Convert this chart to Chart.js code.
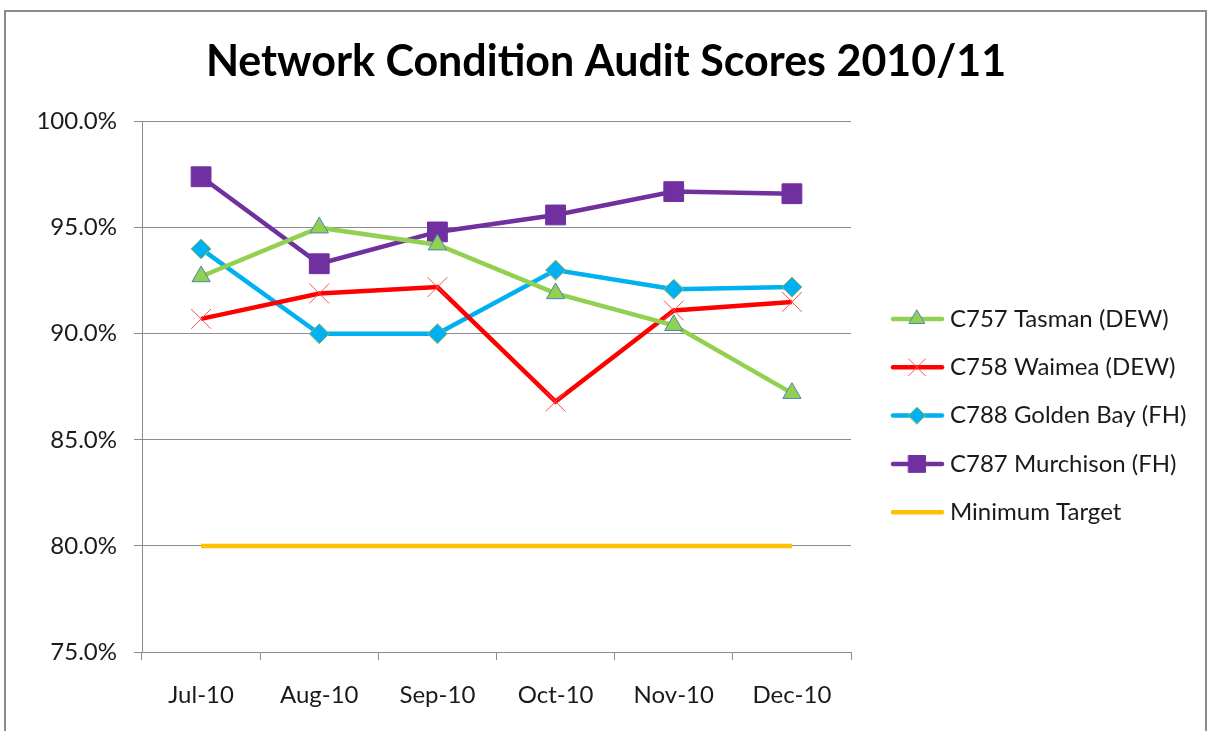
<!DOCTYPE html>
<html>
<head>
<meta charset="utf-8">
<script src="https://cdn.jsdelivr.net/npm/chart.js@4.4.0/dist/chart.umd.min.js"></script>
<style>
body { margin: 0; background: #fff; }
</style>
</head>
<body>
<canvas id="myChart" width="1212" height="731"></canvas>
<script>
var months = ["Jul-10", "Aug-10", "Sep-10", "Oct-10", "Nov-10", "Dec-10"];
var tasman = [92.7, 95.0, 94.2, 91.9, 90.4, 87.2];
var waimea = [90.7, 91.9, 92.2, 86.8, 91.1, 91.5];
var goldenBay = [94.0, 90.0, 90.0, 93.0, 92.1, 92.2];
var murchison = [97.4, 93.3, 94.8, 95.6, 96.7, 96.6];
var minTarget = [80, 80, 80, 80, 80, 80];
var yTicks = [75, 80, 85, 90, 95, 100];

// outer frame like the spreadsheet chart
var frame = {
  id: "frame",
  beforeDraw: function(chart) {
    var ctx = chart.ctx;
    ctx.save();
    ctx.fillStyle = "#fff";
    ctx.fillRect(0, 0, chart.width, chart.height);
    ctx.strokeStyle = "#8c8c8c";
    ctx.lineWidth = 2;
    ctx.strokeRect(5, 11, 1201, 740);
    ctx.restore();
  }
};

// legend with line + marker, drawn in the right hand space
var legendBox = {
  id: "legendBox",
  afterDraw: function(chart) {
    var ctx = chart.ctx;
    chart.data.datasets.forEach(function(ds, i) {
      var y = 319 + i * 48.3;
      ctx.save();
      ctx.strokeStyle = ds.borderColor;
      ctx.lineWidth = ds.borderWidth;
      ctx.lineCap = "round";
      ctx.beginPath();
      ctx.moveTo(893, y);
      ctx.lineTo(942, y);
      ctx.stroke();
      if (ds.pointRadius > 0) {
        ctx.fillStyle = ds.pointBackgroundColor;
        ctx.strokeStyle = ds.pointBorderColor;
        ctx.lineWidth = ds.pointBorderWidth;
        Chart.helpers.drawPoint(ctx, {
          pointStyle: ds.pointStyle,
          radius: ds.pointRadius * 0.85,
          borderWidth: ds.pointBorderWidth,
          rotation: 0
        }, 917, y);
      }
      ctx.fillStyle = "#1a1a1a";
      ctx.font = "24px Lato";
      ctx.textBaseline = "middle";
      ctx.fillText(ds.label, 950, y);
      ctx.restore();
    });
  }
};

new Chart("myChart", {
  type: "line",
  data: {
    labels: months,
    datasets: [{
      label: "C757 Tasman (DEW)",
      data: tasman,
      borderColor: "#92D050",
      borderWidth: 4.5,
      pointStyle: "triangle",
      pointRadius: 10.5,
      pointBackgroundColor: "#92D050",
      pointBorderColor: "#4F81BD",
      pointBorderWidth: 1
    }, {
      label: "C758 Waimea (DEW)",
      data: waimea,
      borderColor: "#FF0000",
      borderWidth: 4.5,
      pointStyle: "crossRot",
      pointRadius: 14,
      pointBackgroundColor: "#FF0000",
      pointBorderColor: "#FF5050",
      pointBorderWidth: 1
    }, {
      label: "C788 Golden Bay (FH)",
      data: goldenBay,
      borderColor: "#00B0F0",
      borderWidth: 4.5,
      pointStyle: "rectRot",
      pointRadius: 10,
      pointBackgroundColor: "#00B0F0",
      pointBorderColor: "#9BBB59",
      pointBorderWidth: 1
    }, {
      label: "C787 Murchison (FH)",
      data: murchison,
      borderColor: "#7030A0",
      borderWidth: 4.5,
      pointStyle: "rect",
      pointRadius: 14,
      pointBackgroundColor: "#7030A0",
      pointBorderColor: "#7030A0",
      pointBorderWidth: 1
    }, {
      label: "Minimum Target",
      data: minTarget,
      borderColor: "#FFC000",
      borderWidth: 4.5,
      pointRadius: 0
    }]
  },
  options: {
    responsive: false,
    animation: false,
    layout: { padding: 0 },
    plugins: {
      legend: { display: false },
      tooltip: { enabled: false },
      title: {
        display: true,
        text: "Network Condition Audit Scores 2010/11",
        color: "#000",
        font: { family: "Lato", size: 43, weight: "bold", lineHeight: 1.2 },
        padding: { top: 36, bottom: 34 }
      }
    },
    scales: {
      x: {
        offset: true,
        grid: { drawOnChartArea: false, offset: true, tickLength: 8, color: "#8c8c8c" },
        border: { color: "#8c8c8c" },
        ticks: { color: "#1a1a1a", padding: 21, font: { family: "Lato", size: 24 } },
        afterFit: function(s) { s.height = 79; }
      },
      y: {
        min: 75,
        max: 100,
        grid: { color: "#8c8c8c", tickLength: 8 },
        border: { color: "#8c8c8c" },
        afterBuildTicks: function(s) {
          s.ticks = yTicks.map(function(v) { return { value: v }; });
        },
        ticks: {
          color: "#1a1a1a",
          padding: 17,
          font: { family: "Lato", size: 24 },
          callback: function(v) { return v.toFixed(1) + "%"; }
        },
        afterFit: function(s) { s.width = 142; }
      },
      side: {
        position: "right",
        grid: { display: false },
        border: { display: false },
        ticks: { display: false },
        afterFit: function(s) { s.width = 361; }
      }
    }
  },
  plugins: [frame, legendBox]
});
</script>
</body>
</html>
